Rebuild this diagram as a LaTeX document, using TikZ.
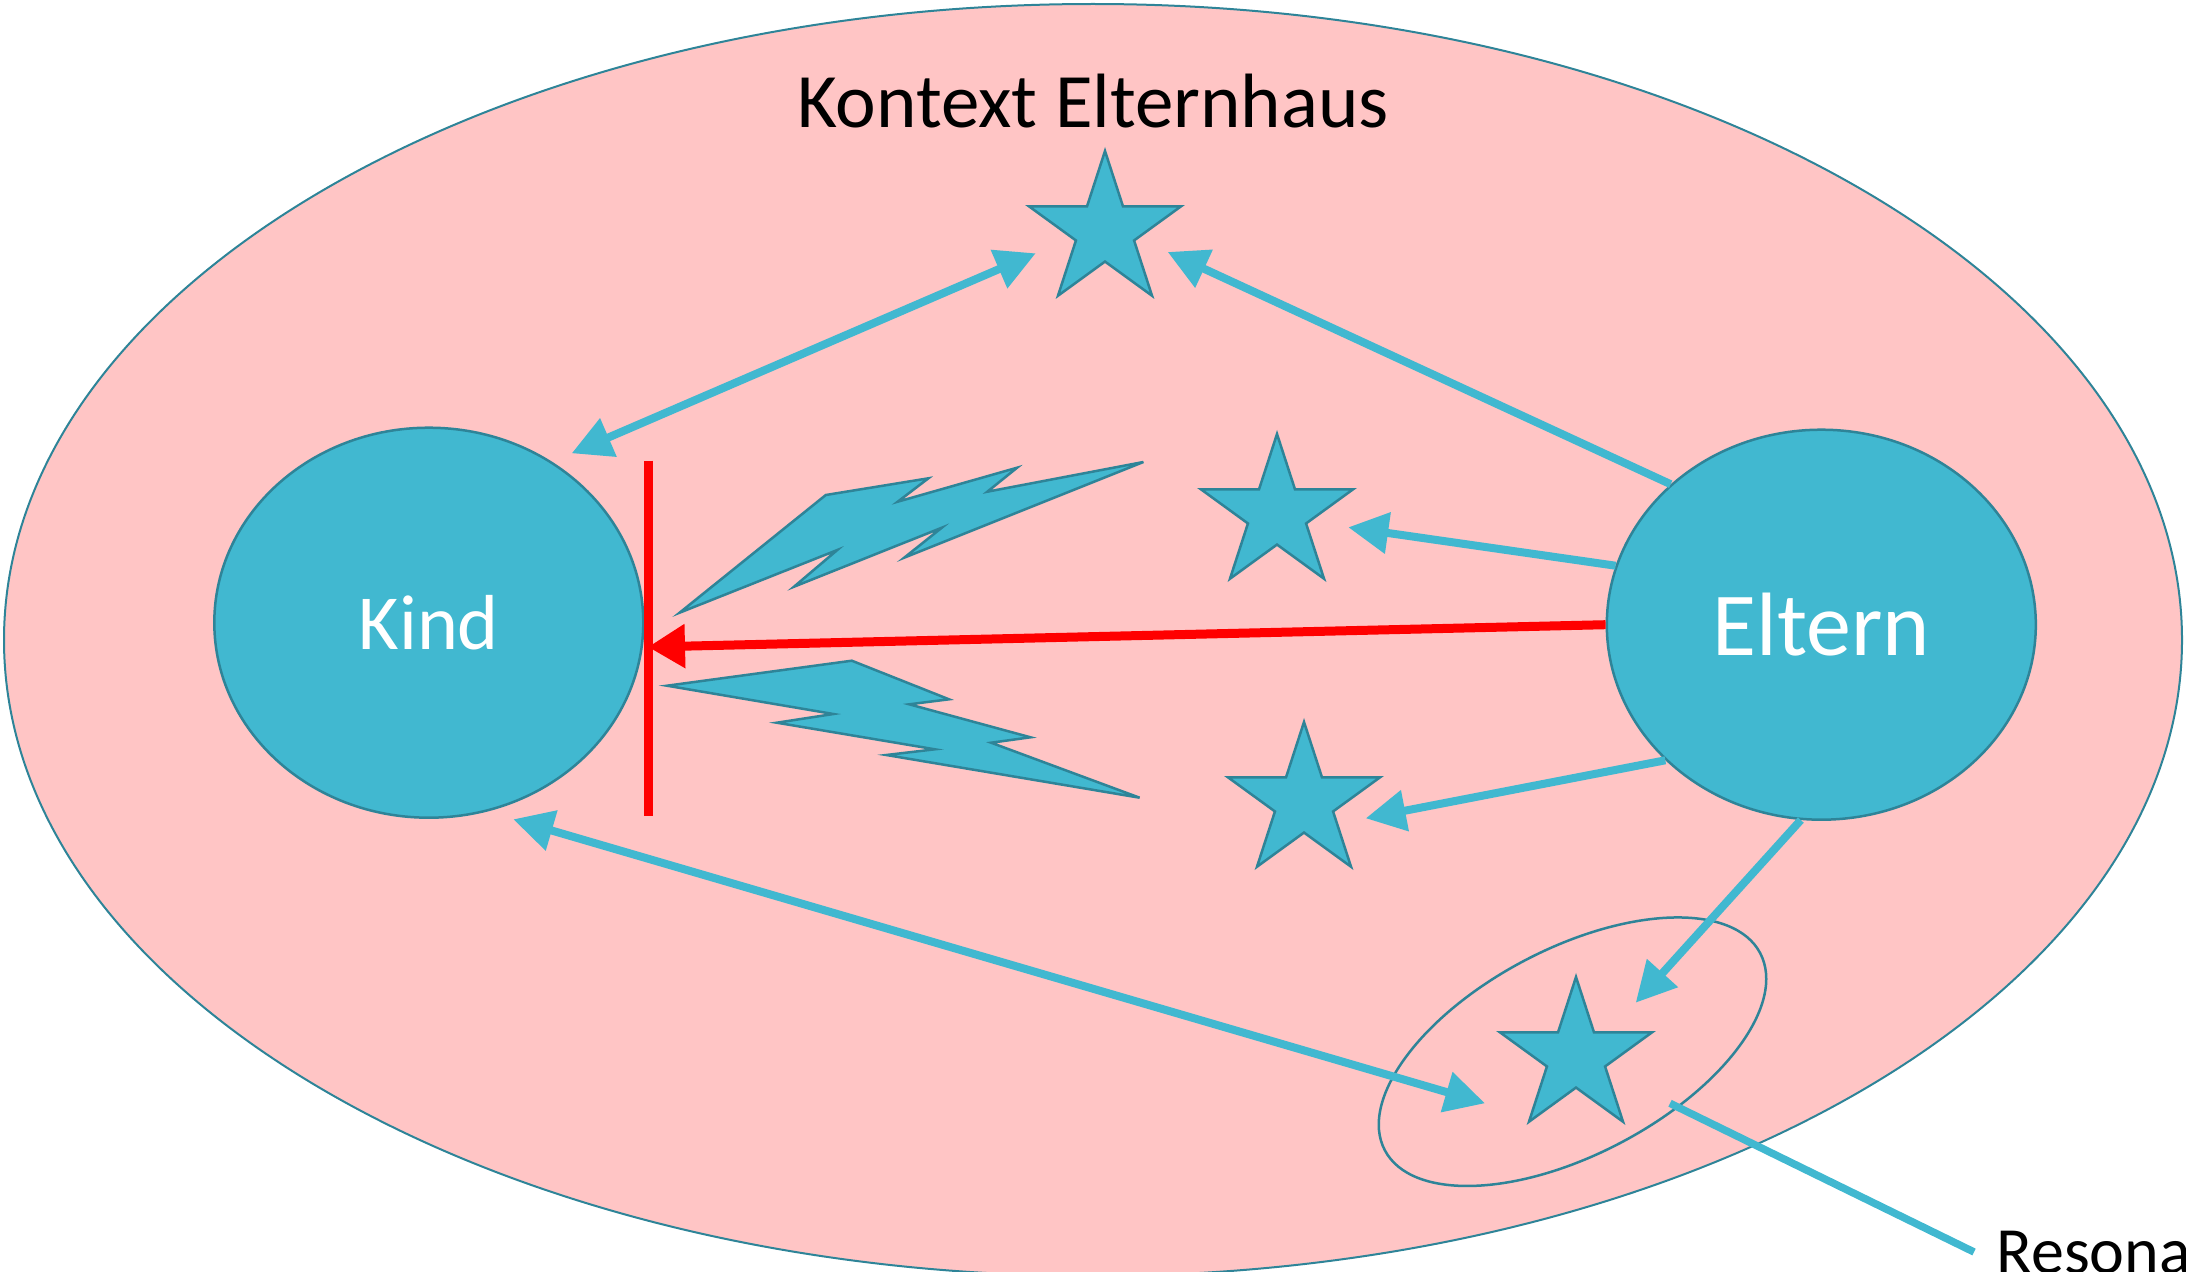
\documentclass[tikz,border=0pt]{standalone}
\usepackage{fontspec}
\setmainfont{Carlito}
\usetikzlibrary{shapes.geometric,arrows.meta}
\definecolor{bgpink}{RGB}{255,197,197}
\definecolor{aqua}{RGB}{65,184,208}
\definecolor{aquadark}{RGB}{46,132,152}
\definecolor{pureRed}{RGB}{255,0,0}
\begin{document}
\begin{tikzpicture}[x=1pt,y=-1pt,
  person/.style={ellipse,draw=aquadark,line width=2.5pt,fill=aqua,inner sep=0pt,
    minimum width=429pt,minimum height=390pt,text=white},
  stern/.style={star,star points=5,star point ratio=2.618,draw=aquadark,line width=2.5pt,
    fill=aqua,inner sep=0pt,minimum size=160pt},
  blitz/.style={draw=aquadark,line width=2.5pt,fill=aqua,line join=miter},
  link/.style={draw=aqua,line width=8pt,-{Triangle[length=40pt,width=40pt]}},
  biarrow/.style={draw=aqua,line width=8pt,{Triangle[length=40pt,width=40pt]}-{Triangle[length=40pt,width=40pt]}},
  redlink/.style={draw=pureRed,line width=9pt,-{Triangle[length=37pt,width=42pt]}},
  plainlink/.style={draw=aqua,line width=7.5pt}
]
\useasboundingbox (0,0) rectangle (2186,1271);

% context ellipse
\node[ellipse,fill=bgpink,draw=aquadark,line width=2pt,inner sep=0pt,
  minimum width=2178pt,minimum height=1272pt] (ctx) at (1093,640) {};
\node[anchor=base,font=\fontsize{77}{90}\selectfont] (title) at (1093,127.7) {Kontext Elternhaus};

% persons
\node[person,font=\fontsize{78}{90}\selectfont] (kind) at (428.8,622.7) {Kind};
\node[person,font=\fontsize{90}{100}\selectfont] (eltern) at (1821.3,624.7) {Eltern};

% stars
\node[stern] (s0) at (1105,231) {};
\node[stern] (s1) at (1277,514) {};
\node[stern] (s2) at (1304,802) {};
\node[stern] (s3) at (1576,1057) {};

% resonance ellipse
\node[ellipse,draw=aquadark,line width=2.5pt,inner sep=0pt,minimum width=424pt,
  minimum height=206pt,rotate=27.7] (reso) at (1572.5,1051.7) {};

% lightning bolts
\draw[blitz] (679.6,612.7) -- (825.8,495) -- (928.4,478.3) -- (897.7,501.7) -- (1017.1,467.7)
  -- (987.3,491.7) -- (1143.4,462) -- (904.2,557.7) -- (941.8,527.7) -- (794,586.7)
  -- (837.3,550) -- cycle;
\draw[blitz] (667,685.7) -- (851.8,660.7) -- (949,699.3) -- (909.2,704.3) -- (1030.5,737.3)
  -- (991.1,742.7) -- (1139.6,797.7) -- (886.3,755) -- (934.9,749.3) -- (776.8,722.7)
  -- (833.4,714) -- cycle;

% connector end points
\coordinate (kA) at (571.7,453.3);
\coordinate (s0L) at (1035.7,253.3);
\coordinate (s0R) at (1167.7,252);
\coordinate (s1R) at (1348.3,527.3);
\coordinate (s2R) at (1365.7,818.3);
\coordinate (s3T) at (1635.7,1002.7);
\coordinate (s3L) at (1485,1103.3);
\coordinate (kB) at (513.3,819.3);
\coordinate (redtip) at (648,647);
\coordinate (bartop) at (648,460.7);
\coordinate (barbot) at (648,816);
\coordinate (resoA) at (1670,1103.3);
\coordinate (resoB) at (1974,1252);

% connectors
\draw[biarrow] (kA) -- (s0L);
\draw[link] (eltern.137.8) -- (s0R);
\draw[link] (eltern.164.7) -- (s1R);
\draw[link] (eltern.221.8) -- (s2R);
\draw[link] (eltern.264.9) -- (s3T);
\draw[biarrow] (kB) -- (s3L);
\draw[draw=pureRed,line width=9pt] (bartop) -- (barbot);
\draw[redlink] (eltern.west) -- (redtip);
\draw[plainlink] (resoA) -- (resoB);
\node[anchor=base west,font=\fontsize{66}{72}\selectfont] (resonanz) at (1993,1273) {Resonanz};
\end{tikzpicture}
\end{document}
